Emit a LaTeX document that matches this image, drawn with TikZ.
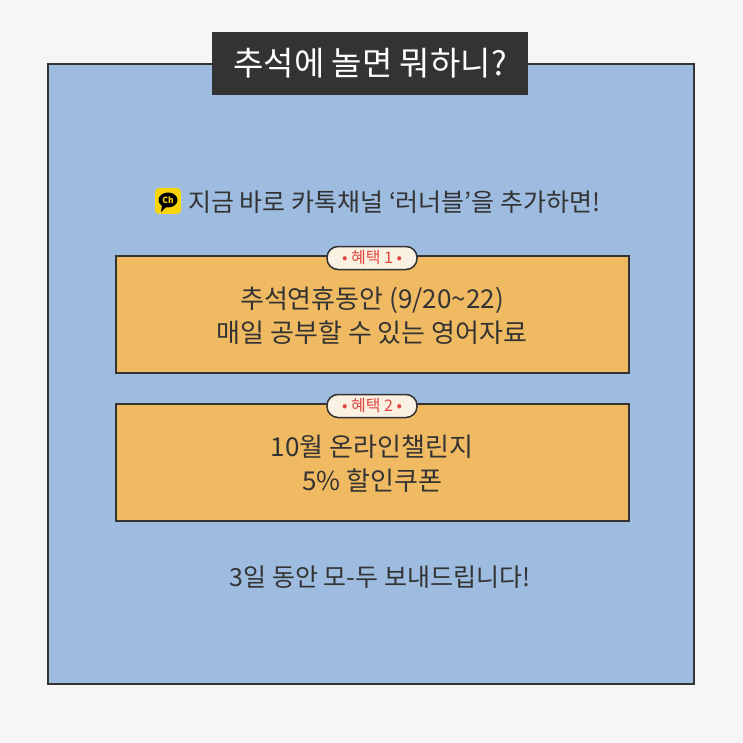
\documentclass[tikz,border=0pt]{standalone}
\usepackage{fontspec}
\setmainfont{Noto Sans CJK KR}
\definecolor{bgc}{HTML}{F7F5F5}
\definecolor{bluec}{HTML}{9DBCE0}
\definecolor{darkc}{HTML}{333333}
\definecolor{orc}{HTML}{F0BA62}
\definecolor{creamc}{HTML}{FBF1E3}
\definecolor{redc}{HTML}{E0463E}
\definecolor{yelc}{HTML}{F9D40A}
\begin{document}
\begin{tikzpicture}[x=1pt,y=-1pt,
  txt/.style={text=darkc,font=\fontsize{25}{34}\selectfont,align=center},
  benefit/.style={draw=darkc,line width=1.5pt,fill=orc},
  pill/.style={draw=darkc,line width=1.5pt,fill=creamc,rounded corners=11pt,minimum width=90pt,minimum height=23pt,inner sep=0pt,text=redc,font=\fontsize{16}{18}\selectfont}]
\fill[bgc] (0,0) rectangle (743,743);
\useasboundingbox (0,0) rectangle (743,743);
\draw[draw=darkc,line width=1.5pt,fill=bluec] (48,64) rectangle (694,684);
\node[fill=darkc,minimum width=316pt,minimum height=63pt,inner sep=0pt,text=white,font=\fontsize{33}{38}\selectfont] (title) at (370,63.5) {추석에 놀면 뭐하니?};
% icon
\node[fill=yelc,rounded corners=4pt,minimum size=26pt,inner sep=0pt] (icon) at (168,201) {};
\fill[black] (168,200) ellipse (9.5pt and 7.5pt);
\fill[black] (162,205) -- (161,212) -- (167,206) -- cycle;
\node[text=yelc,font=\fontsize{8.5}{9}\selectfont\bfseries,inner sep=0pt] at (168,200) {Ch};
\node[txt,anchor=west,inner sep=0pt] (l1) at (188,202) {지금 바로 카톡채널 ‘러너블’을 추가하면!};
% box 1
\draw[benefit] (116,256) rectangle (629,373);
\node[pill] (p1) at (372,258) {• 혜택 1 •};
\node[txt,font=\fontsize{26}{34}\selectfont] (t1) at (372,316) {추석연휴동안 (9/20\textasciitilde22)\\매일 공부할 수 있는 영어자료};
% box 2
\draw[benefit] (116,404) rectangle (629,521);
\node[pill] (p2) at (372,406) {• 혜택 2 •};
\node[txt,font=\fontsize{26}{34}\selectfont] (t2) at (372,464) {10월 온라인챌린지\\5\% 할인쿠폰};
\node[txt] (b) at (380,577) {3일 동안 모-두 보내드립니다!};
\end{tikzpicture}
\end{document}
